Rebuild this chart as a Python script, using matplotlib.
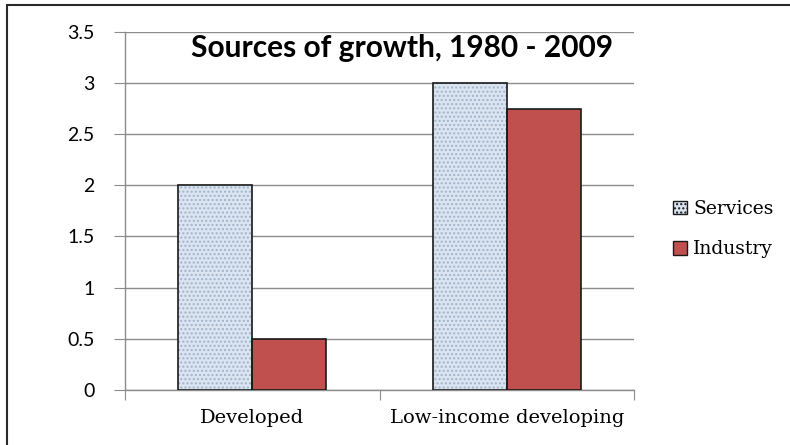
import matplotlib
matplotlib.use("Agg")
import matplotlib.pyplot as plt
from matplotlib.patches import Rectangle, Patch
import numpy as np

categories = ["Developed", "Low-income developing"]
services = [2.0, 3.0]
industry = [0.5, 2.75]

x = np.arange(len(categories)) + 0.5
width = 0.29

fig = plt.figure(figsize=(7.9, 4.45), dpi=100)
ax = fig.add_axes([0.158, 0.124, 0.645, 0.804])

# services: dotted light-blue fill, outline drawn separately so the dots stay pale
ax.bar(x - width / 2, services, width, color="#dbe5f1", edgecolor="#9fb3c8",
       hatch="....", linewidth=0, zorder=3)
ax.bar(x - width / 2, services, width, fill=False, edgecolor="#1a1a1a",
       linewidth=1.2, zorder=4)
ax.bar(x + width / 2, industry, width, color="#c0504d", edgecolor="#1a1a1a",
       linewidth=1.2, zorder=3)

ax.set_xlim(0, 2)
ax.set_ylim(0, 3.5)
ax.set_yticks(np.arange(0, 3.51, 0.5))
ax.set_yticklabels(["0", "0.5", "1", "1.5", "2", "2.5", "3", "3.5"],
                   family="Lato", fontsize=14)
ax.grid(True, axis="y", color="#8c8c8c", linewidth=1.0, zorder=0)
ax.set_axisbelow(True)

ax.set_xticks([0, 1, 2])
ax.set_xticklabels([])
ax.set_xticks(x, minor=True)
ax.set_xticklabels(categories, minor=True, family="DejaVu Serif", fontsize=14)
ax.tick_params(axis="x", which="minor", length=0, pad=14)
ax.tick_params(axis="x", which="major", length=7, color="#8c8c8c", direction="out")
ax.tick_params(axis="y", length=8, color="#8c8c8c", pad=14)

for side in ("top", "right"):
    ax.spines[side].set_visible(False)
for side in ("left", "bottom"):
    ax.spines[side].set_color("#8c8c8c")
    ax.spines[side].set_linewidth(1.0)

fig.text(0.509, 0.893, "Sources of growth, 1980 - 2009", ha="center", va="center",
         fontsize=21.5, fontweight="bold", family="Lato")

handles = [
    Patch(facecolor="#dbe5f1", edgecolor="#1a1a1a", hatch="....", linewidth=1.0),
    Patch(facecolor="#c0504d", edgecolor="#1a1a1a", linewidth=1.0),
]
fig.legend(handles, ["Services", "Industry"], loc="center left",
           bbox_to_anchor=(0.83, 0.485), frameon=False, handlelength=0.75,
           handleheight=0.75, handletextpad=0.35, labelspacing=1.2,
           prop={"family": "DejaVu Serif", "size": 13.5})

# outer chart frame
fig.patches.append(Rectangle((0.009, -0.02), 1.0, 1.009,
                             transform=fig.transFigure, fill=False,
                             edgecolor="#2a2a2a", linewidth=1.5))

plt.savefig("out.png", dpi=100)
